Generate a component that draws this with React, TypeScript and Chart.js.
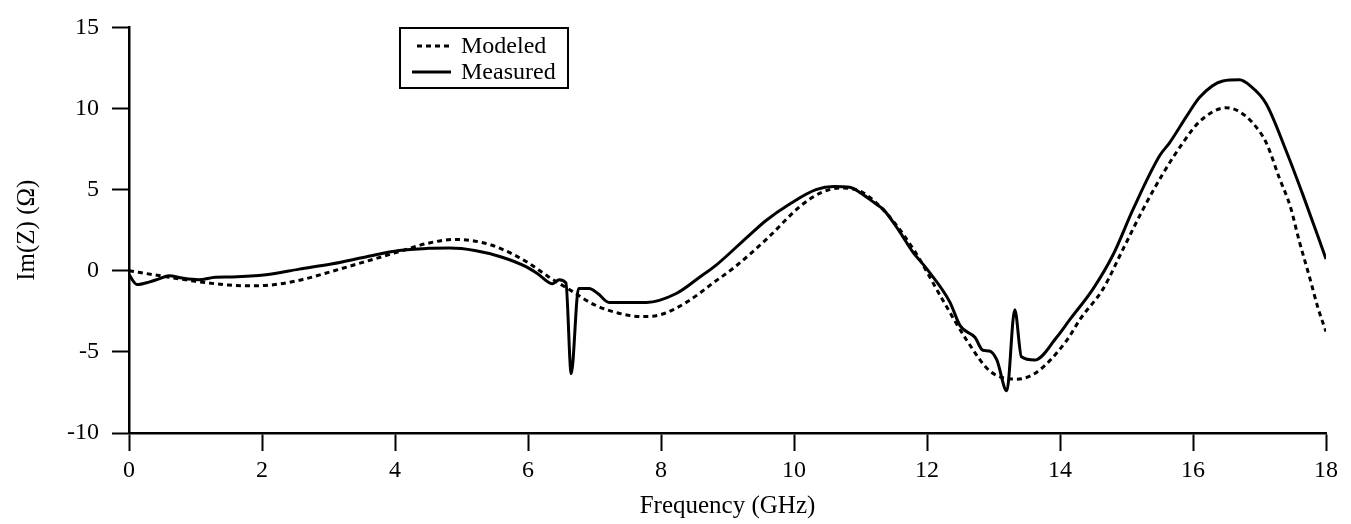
import React, { useEffect, useRef } from "react";
import { Chart, registerables } from "chart.js";

Chart.register(...registerables);

const modeledFreq = [0, 0.5, 1.0, 1.5, 1.8, 2.2, 2.6, 3.0, 3.5, 4.0, 4.5, 4.9, 5.3, 5.6, 6.0, 6.3, 6.6, 7.0, 7.35, 7.7, 8.0, 8.4, 8.8, 9.1, 9.6, 10.1, 10.4, 10.7, 11.0, 11.4, 11.8, 12.25, 12.6, 12.95, 13.35, 13.65, 14.1, 14.3, 14.65, 14.95, 15.25, 15.55, 15.85, 16.1, 16.5, 16.7, 16.9, 17.1, 17.3, 17.46, 17.6, 17.76, 17.88, 18.0];
const modeledIm = [0, -0.33, -0.65, -0.88, -0.93, -0.85, -0.55, -0.1, 0.5, 1.1, 1.7, 1.93, 1.75, 1.35, 0.5, -0.35, -1.1, -2.1, -2.6, -2.82, -2.7, -1.9, -0.7, 0.2, 2.0, 4.0, 4.8, 5.1, 4.9, 3.5, 1.3, -1.9, -4.3, -6.2, -6.68, -6.25, -4.3, -3.0, -1.1, 1.35, 3.8, 6.0, 7.9, 9.2, 10.05, 9.8, 9.1, 7.9, 5.7, 4.0, 1.8, -0.5, -2.3, -3.75];

const measuredFreq = [0, 0.12, 0.3, 0.45, 0.6, 0.8, 1.05, 1.3, 1.55, 2.06, 2.56, 3.06, 3.56, 4.06, 4.5, 4.82, 5.2, 5.6, 5.97, 6.15, 6.37, 6.47, 6.57, 6.65, 6.76, 6.92, 7.05, 7.22, 7.78, 8.23, 8.58, 8.83, 9.33, 9.58, 9.93, 10.33, 10.6, 10.84, 11.0, 11.24, 11.34, 11.59, 11.78, 12.0, 12.34, 12.5, 12.72, 12.84, 12.94, 13.05, 13.2, 13.32, 13.42, 13.62, 13.95, 14.15, 14.5, 14.8, 15.1, 15.5, 15.65, 15.9, 16.1, 16.45, 16.7, 16.86, 17.1, 17.4, 17.66, 18.0];
const measuredIm = [-0.25, -0.85, -0.7, -0.5, -0.3, -0.45, -0.55, -0.4, -0.38, -0.25, 0.1, 0.43, 0.85, 1.25, 1.38, 1.4, 1.25, 0.85, 0.25, -0.2, -0.8, -0.55, -0.75, -6.35, -1.1, -1.1, -1.4, -1.95, -1.95, -1.4, -0.4, 0.35, 2.2, 3.1, 4.1, 5.0, 5.2, 5.15, 4.8, 4.1, 3.8, 2.4, 1.2, 0.1, -1.9, -3.4, -4.1, -4.9, -4.95, -5.5, -7.4, -2.4, -5.3, -5.5, -4.1, -3.0, -1.1, 1.0, 3.8, 7.1, 7.9, 9.5, 10.7, 11.7, 11.77, 11.4, 10.3, 7.4, 4.6, 0.73];

const seriesLabels = ["Modeled", "Measured"];
const xTitle = "Frequency (GHz)";
const yTitle = "Im(Z) (\u03A9)";

const FONT = '"Liberation Serif", "Times New Roman", serif';

const legendPlugin = {
  id: "boxLegend",
  afterDraw(chart: any) {
    const ctx = chart.ctx;
    ctx.save();
    ctx.strokeStyle = "#000";
    ctx.lineWidth = 2;
    ctx.strokeRect(400, 28, 168, 60);
    const rows = [46, 72];
    chart.data.datasets.forEach((ds: any, i: number) => {
      const y = rows[i];
      ctx.beginPath();
      ctx.lineWidth = 3;
      ctx.setLineDash(ds.borderDash || []);
      ctx.moveTo(ds.borderDash && ds.borderDash.length ? 417 : 412, y);
      ctx.lineTo(451, y);
      ctx.stroke();
      ctx.setLineDash([]);
      ctx.fillStyle = "#000";
      ctx.font = `24px ${FONT}`;
      ctx.textBaseline = "middle";
      ctx.textAlign = "left";
      ctx.fillText(ds.label, 461, y + 1);
    });
    ctx.restore();
  },
};

export default function App() {
  const ref = useRef<HTMLCanvasElement | null>(null);
  useEffect(() => {
    document.body.style.margin = "0";
    const modeled = modeledFreq.map((x, i) => ({ x, y: modeledIm[i] }));
    const measured = measuredFreq.map((x, i) => ({ x, y: measuredIm[i] }));
    const chart = new Chart(ref.current as HTMLCanvasElement, {
      type: "line",
      data: {
        datasets: [
          {
            label: seriesLabels[0],
            data: modeled,
            borderColor: "#000",
            borderWidth: 3,
            borderDash: [5, 4],
            pointRadius: 0,
            cubicInterpolationMode: "monotone",
            fill: false,
          },
          {
            label: seriesLabels[1],
            data: measured,
            borderColor: "#000",
            borderWidth: 3,
            pointRadius: 0,
            cubicInterpolationMode: "monotone",
            fill: false,
          },
        ],
      },
      options: {
        animation: false,
        responsive: true,
        maintainAspectRatio: false,
        layout: { padding: { left: 0, right: 25, top: 23, bottom: 0 } },
        plugins: {
          legend: { display: false },
          tooltip: { enabled: false },
        },
        scales: {
          x: {
            type: "linear",
            min: 0,
            max: 18,
            afterFit: (s: any) => {
              s.height = 91;
            },
            ticks: {
              stepSize: 2,
              color: "#000",
              padding: 5,
              font: { family: FONT, size: 24 },
              maxRotation: 0,
            },
            grid: {
              display: true,
              drawOnChartArea: false,
              drawTicks: true,
              tickLength: 18,
              tickWidth: 2,
              color: "#000",
            },
            border: { display: true, color: "#000", width: 2.5 },
            title: {
              display: true,
              text: xTitle,
              color: "#000",
              font: { family: FONT, size: 25 },
              padding: { top: 0, bottom: 3 },
            },
          },
          y: {
            type: "linear",
            min: -10,
            max: 15,
            afterFit: (s: any) => {
              s.width = 129;
            },
            ticks: {
              stepSize: 5,
              color: "#000",
              padding: 13,
              font: { family: FONT, size: 24 },
            },
            grid: {
              display: true,
              drawOnChartArea: false,
              drawTicks: true,
              tickLength: 17,
              tickWidth: 2,
              color: "#000",
            },
            border: { display: true, color: "#000", width: 2.5 },
            title: {
              display: true,
              text: yTitle,
              color: "#000",
              font: { family: FONT, size: 25 },
              padding: { top: 12, bottom: 0 },
            },
          },
        },
      },
      plugins: [legendPlugin],
    } as any);
    return () => chart.destroy();
  }, []);
  return (
    <div style={{ width: 1351, height: 524, position: "relative", background: "#fff" }}>
      <canvas ref={ref} />
    </div>
  );
}
